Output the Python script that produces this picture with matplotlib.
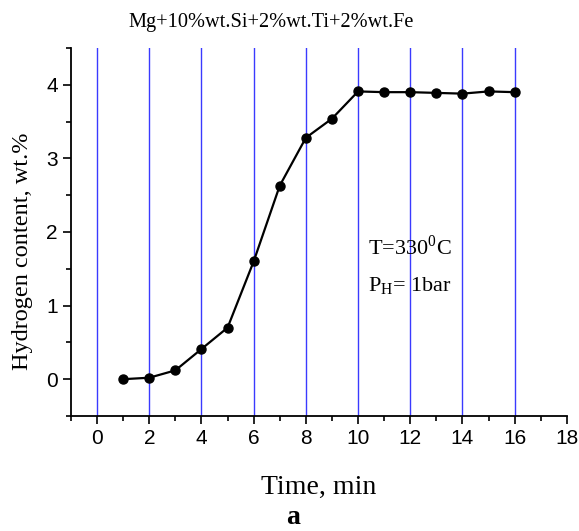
import matplotlib.pyplot as plt
from matplotlib.ticker import MultipleLocator

time_min = [1, 2, 3, 4, 5, 6, 7, 8, 9, 10, 11, 12, 13, 14, 15, 16]
h_content = [0.0, 0.02, 0.12, 0.41, 0.70, 1.60, 2.63, 3.28, 3.54, 3.91,
             3.90, 3.90, 3.89, 3.88, 3.91, 3.90]
grid_x = [0, 2, 4, 6, 8, 10, 12, 14, 16]

serif = ['Liberation Serif', 'DejaVu Serif']
sans = ['Liberation Sans', 'DejaVu Sans']

fig = plt.figure(figsize=(5.79, 5.31), dpi=100)
ax = fig.add_axes([0.1226, 0.2166, 0.8564, 0.693])

for gx in grid_x:
    ax.axvline(gx, color='#3a3aff', lw=1.0, zorder=1)

ax.plot(time_min, h_content, color='black', lw=1.6, marker='o',
        markersize=6.5, zorder=3)

ax.set_xlim(-1, 18)
ax.set_ylim(-0.5, 4.5)
ax.xaxis.set_major_locator(MultipleLocator(2))
ax.xaxis.set_minor_locator(MultipleLocator(1))
ax.yaxis.set_major_locator(MultipleLocator(1))
ax.yaxis.set_minor_locator(MultipleLocator(0.5))
ax.set_yticks([0, 1, 2, 3, 4])
ax.spines['top'].set_visible(False)
ax.spines['right'].set_visible(False)
ax.spines['left'].set_linewidth(1.3)
ax.spines['bottom'].set_linewidth(1.3)
ax.tick_params(which='major', direction='out', length=6, width=1.2)
ax.tick_params(which='minor', direction='out', length=3.5, width=1.2)
for lab in ax.get_xticklabels() + ax.get_yticklabels():
    lab.set_family(sans)
    lab.set_fontsize(15)

ax.set_xlabel('Time, min', family=serif, fontsize=20, labelpad=19)
ax.set_ylabel('Hydrogen content, wt.%', family=serif, fontsize=17.5)
ax.yaxis.set_label_coords(-0.077, 0.448)
fig.text(0.468, 0.957, 'Mg+10%wt.Si+2%wt.Ti+2%wt.Fe', family=serif,
         fontsize=14.7, ha='center', va='center')

ax.text(10.4, 1.79, r'T=330$^{\mathregular{0}}$C', family=serif, fontsize=16,
        va='center')
ax.text(10.4, 1.26, r'P$_{\mathregular{H}}$= 1bar', family=serif, fontsize=16,
        va='center')

fig.text(0.506, 0.002, 'a', family=serif, fontsize=20, fontweight='bold',
         ha='center', va='bottom')

fig.savefig('out.png', dpi=100)
